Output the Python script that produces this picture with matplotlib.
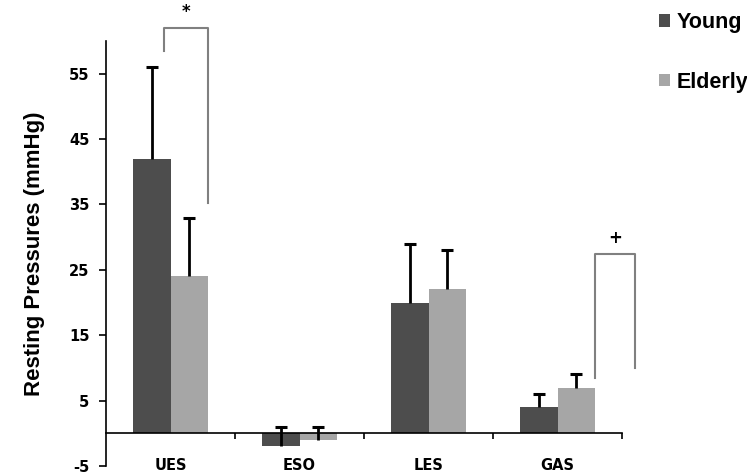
#### Resting pressures, young vs elderly

import matplotlib
matplotlib.use('Agg')
import matplotlib.pyplot as plt
import numpy as np

plt.rcParams['axes.unicode_minus'] = False

# Data
regions = ["UES", "ESO", "LES", "GAS"]
young = [42, -2, 20, 4]
young_err = [14, 3, 9, 2]
elderly = [24, -1, 22, 7]
elderly_err = [9, 2, 6, 2]
y_ticks = [-5, 5, 15, 25, 35, 45, 55]

# Significance brackets: (left x, right x, top y, left foot, right foot, mark)
brackets = [(-0.05, 0.29, 62, 58.5, 35.3, "*"),
            (3.29, 3.6, 27.5, 8.5, 10, "+")]

c_young = "#4d4d4d"
c_old = "#a6a6a6"
width = 0.287
x = np.arange(len(regions))

fig = plt.figure(figsize=(7.47, 4.75), dpi=100)
ax = fig.add_axes([0.1419, 0.0189, 0.6908, 0.8947])

# - Bars with one-sided error bars (cap only on top)
for pos, vals, errs, col, lab in [(x - width / 2, young, young_err, c_young, "Young"),
                                  (x + width / 2, elderly, elderly_err, c_old, "Elderly")]:
    ax.bar(pos, vals, width, color=col, label=lab)
    tops = np.array(vals) + np.array(errs)
    ax.vlines(pos, vals, tops, color='black', lw=2, zorder=3)
    ax.plot(pos, tops, ls='none', marker='_', ms=8, mew=2.2, color='black',
            zorder=3)

# - Brackets
for x0, x1, top, f0, f1, mark in brackets:
    ax.plot([x0, x0, x1, x1], [f0, top, top, f1], color='#808080', lw=1.5,
            clip_on=False)
    ax.text((x0 + x1) / 2, top + 1.0, mark, ha='center', va='bottom',
            fontsize=12, fontweight='bold', family='DejaVu Sans')

# - Axes
ax.set_xlim(-0.5, 3.5)
ax.set_ylim(-5, 60)
ax.spines['top'].set_visible(False)
ax.spines['right'].set_visible(False)
ax.spines['bottom'].set_position(('data', 0))
ax.spines['left'].set_linewidth(1.2)
ax.spines['bottom'].set_linewidth(1.2)

ax.set_yticks(y_ticks)
ax.tick_params(axis='y', direction='out', length=5, width=1.2, pad=7)
for lab in ax.get_yticklabels():
    lab.set_fontweight('bold')
    lab.set_fontsize(10.5)

ax.set_xticks(x)
ax.set_xticklabels(regions, fontweight='bold', fontsize=10.5)
ax.tick_params(axis='x', which='major', length=0, pad=18)
ax.set_xticks(x + 0.5, minor=True)
ax.tick_params(axis='x', which='minor', direction='out', length=4, width=1.2)

ax.set_ylabel("Resting Pressures (mmHg)", fontsize=16, fontweight='bold',
              family='Liberation Sans', labelpad=17)

# - Legend
ax.legend(loc='upper left', bbox_to_anchor=(0.868, 0.997),
          bbox_transform=fig.transFigure, frameon=False, borderpad=0,
          handlelength=0.5, handleheight=0.5, handletextpad=0.3,
          labelspacing=1.8, prop={'family': 'Liberation Sans',
                                  'weight': 'bold', 'size': 15.5})

fig.savefig("out.png", dpi=100)
